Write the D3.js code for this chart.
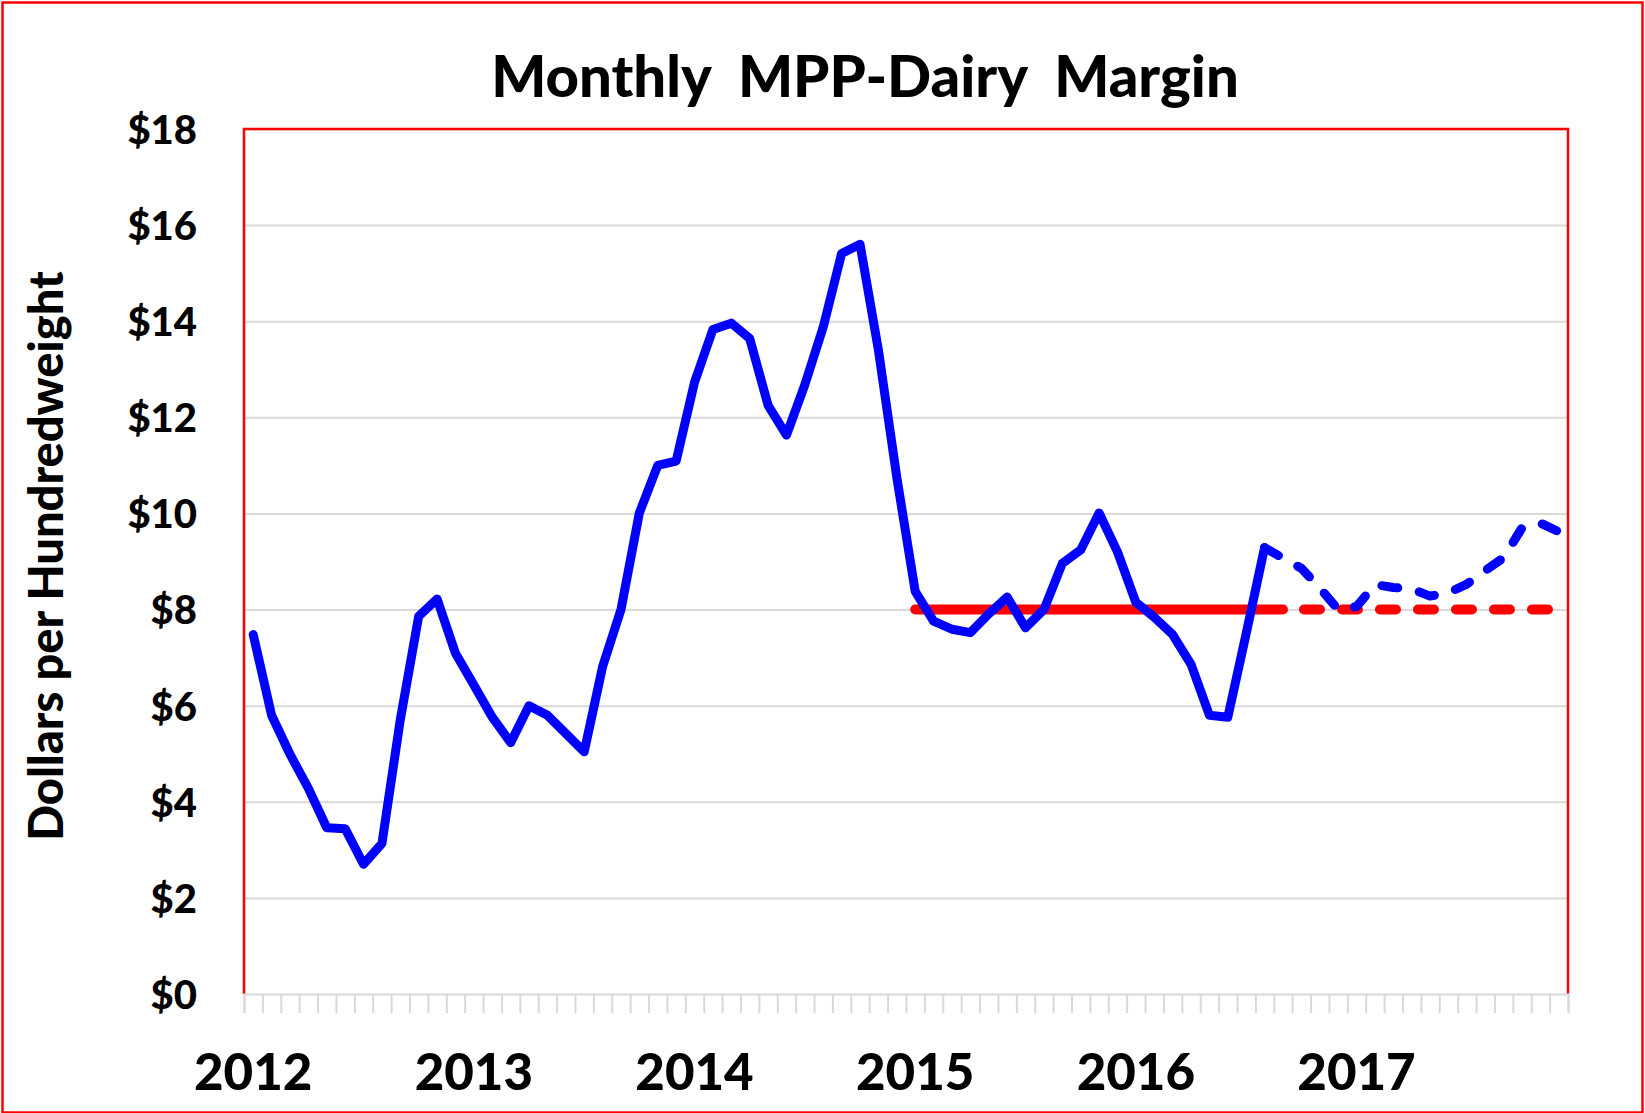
<!DOCTYPE html>
<html>
<head>
<meta charset="utf-8">
<script src="https://cdn.jsdelivr.net/npm/d3@7"></script>
<style>
  body { margin: 0; background: #fff; }
  text { font-family: Lato, "Open Sans", sans-serif; font-weight: 900; fill: #000; }
</style>
</head>
<body>
<script>
// monthly margin, Jan 2012 .. Aug 2016 (actual)
var margin = [7.48, 5.80, 4.99, 4.28, 3.46, 3.44, 2.70, 3.13, 5.71, 7.86, 8.22, 7.09,
              6.43, 5.76, 5.23, 6.00, 5.80, 5.42, 5.04, 6.81, 8.00, 10.01, 11.00, 11.09,
              12.73, 13.83, 13.96, 13.64, 12.25, 11.63, 12.68, 13.88, 15.41, 15.60, 13.40, 10.75,
              8.38, 7.76, 7.59, 7.52, 7.91, 8.26, 7.62, 8.00, 8.96, 9.24, 10.01, 9.20,
              8.15, 7.84, 7.48, 6.86, 5.80, 5.76, 7.50, 9.29];
// forecast, Aug 2016 .. Dec 2017
var forecast = [9.29, 9.07, 8.86, 8.45, 8.00, 8.06, 8.52, 8.46, 8.43, 8.28, 8.35, 8.53,
                8.81, 9.08, 9.70, 9.80, 9.62];
var forecastStart = 55;
// $8 coverage level
var coverage = [8, 8, 8, 8, 8, 8, 8, 8, 8, 8, 8, 8, 8, 8, 8, 8, 8, 8, 8, 8, 8];
var coverageStart = 36;
var coverageFcst = [8, 8, 8, 8, 8, 8, 8, 8, 8, 8, 8, 8, 8, 8, 8, 8];
var coverageFcstStart = 56;

var years = ["2012", "2013", "2014", "2015", "2016", "2017"];
var yTicks = [0, 2, 4, 6, 8, 10, 12, 14, 16, 18];
var months = d3.range(72);

var W = 1645, H = 1113;
var plotLeft = 244, plotRight = 1568, plotTop = 129, plotBottom = 994;

var svg = d3.select("body").append("svg")
  .attr("width", W)
  .attr("height", H);

svg.append("rect")
  .attr("x", 2.5).attr("y", 2.5)
  .attr("width", W - 5).attr("height", H - 3)
  .attr("fill", "none")
  .attr("stroke", "#ff0000")
  .attr("stroke-width", 2.5);

var x = d3.scaleBand()
  .domain(months)
  .range([plotLeft, plotRight])
  .padding(0);

var xTick = d3.scaleLinear()
  .domain([0, 72])
  .range([plotLeft, plotRight]);

var y = d3.scaleLinear()
  .domain([0, 18])
  .range([plotBottom, plotTop]);

// gridlines
svg.append("g")
  .attr("transform", "translate(" + plotLeft + ",0)")
  .call(d3.axisLeft(y).tickValues(yTicks.slice(1)).tickSize(-(plotRight - plotLeft)).tickFormat(""))
  .call(function(g) {
    g.select(".domain").remove();
    g.selectAll("line").attr("stroke", "#d9d9d9").attr("stroke-width", 2);
  });

// plot border
svg.append("path")
  .attr("d", "M" + plotLeft + "," + plotBottom + "V" + plotTop + "H" + plotRight + "V" + plotBottom)
  .attr("fill", "none")
  .attr("stroke", "#ff0000")
  .attr("stroke-width", 2.5);

// x axis minor ticks
svg.append("g")
  .attr("transform", "translate(0," + plotBottom + ")")
  .call(d3.axisBottom(xTick).tickValues(d3.range(73)).tickSize(19).tickFormat(""))
  .call(function(g) {
    g.select(".domain").attr("stroke", "#d9d9d9").attr("stroke-width", 2);
    g.selectAll("line").attr("stroke", "#d9d9d9").attr("stroke-width", 2);
  });

// year labels
svg.append("g")
  .attr("transform", "translate(0," + plotBottom + ")")
  .call(d3.axisBottom(x).tickValues(months.filter(function(m) { return m % 12 === 0; }))
    .tickSize(0)
    .tickFormat(function(m) { return years[m / 12]; }))
  .call(function(g) {
    g.select(".domain").remove();
    g.selectAll("text")
      .attr("y", 96)
      .attr("dy", 0)
      .style("font-size", "51px")
      .style("font-family", "Lato, sans-serif")
      .style("font-weight", "900")
      .attr("fill", "#000");
  });

// y labels
svg.append("g")
  .attr("transform", "translate(197,0)")
  .call(d3.axisLeft(y).tickValues(yTicks).tickSize(0).tickPadding(0)
    .tickFormat(function(d) { return "$" + d; }))
  .call(function(g) {
    g.select(".domain").remove();
    g.selectAll("text")
      .attr("dy", "0.36em")
      .style("font-size", "40px")
      .style("font-family", "Lato, sans-serif")
      .style("font-weight", "900")
      .attr("fill", "#000");
  });

function cx(i) { return x(i) + x.bandwidth() / 2; }

var line = d3.line()
  .x(function(d) { return cx(d.i); })
  .y(function(d) { return y(d.v); });

function pts(vals, start) {
  return vals.map(function(v, k) { return {i: start + k, v: v}; });
}

svg.append("path")
  .datum(pts(coverage, coverageStart))
  .attr("d", line)
  .attr("fill", "none")
  .attr("stroke", "#ff0000")
  .attr("stroke-width", 10)
  .attr("stroke-linecap", "round");

svg.append("path")
  .datum(pts(coverageFcst, coverageFcstStart))
  .attr("d", line)
  .attr("fill", "none")
  .attr("stroke", "#ff0000")
  .attr("stroke-width", 10)
  .attr("stroke-linecap", "round")
  .attr("stroke-dasharray", "16,22")
  .attr("stroke-dashoffset", 17);

svg.append("path")
  .datum(pts(margin, 0))
  .attr("d", line)
  .attr("fill", "none")
  .attr("stroke", "#0000ff")
  .attr("stroke-width", 9)
  .attr("stroke-linejoin", "round")
  .attr("stroke-linecap", "round");

svg.append("path")
  .datum(pts(forecast, forecastStart))
  .attr("d", line)
  .attr("fill", "none")
  .attr("stroke", "#0000ff")
  .attr("stroke-width", 9)
  .attr("stroke-linejoin", "round")
  .attr("stroke-linecap", "round")
  .attr("stroke-dasharray", "16,22");

svg.append("text")
  .attr("x", 865)
  .attr("y", 97)
  .attr("text-anchor", "middle")
  .style("font-size", "58px")
  .style("white-space", "pre")
  .text("Monthly  MPP-Dairy  Margin");

svg.append("text")
  .attr("transform", "translate(63,556) rotate(-90)")
  .attr("text-anchor", "middle")
  .style("font-size", "47px")
  .text("Dollars per Hundredweight");
</script>
</body>
</html>
